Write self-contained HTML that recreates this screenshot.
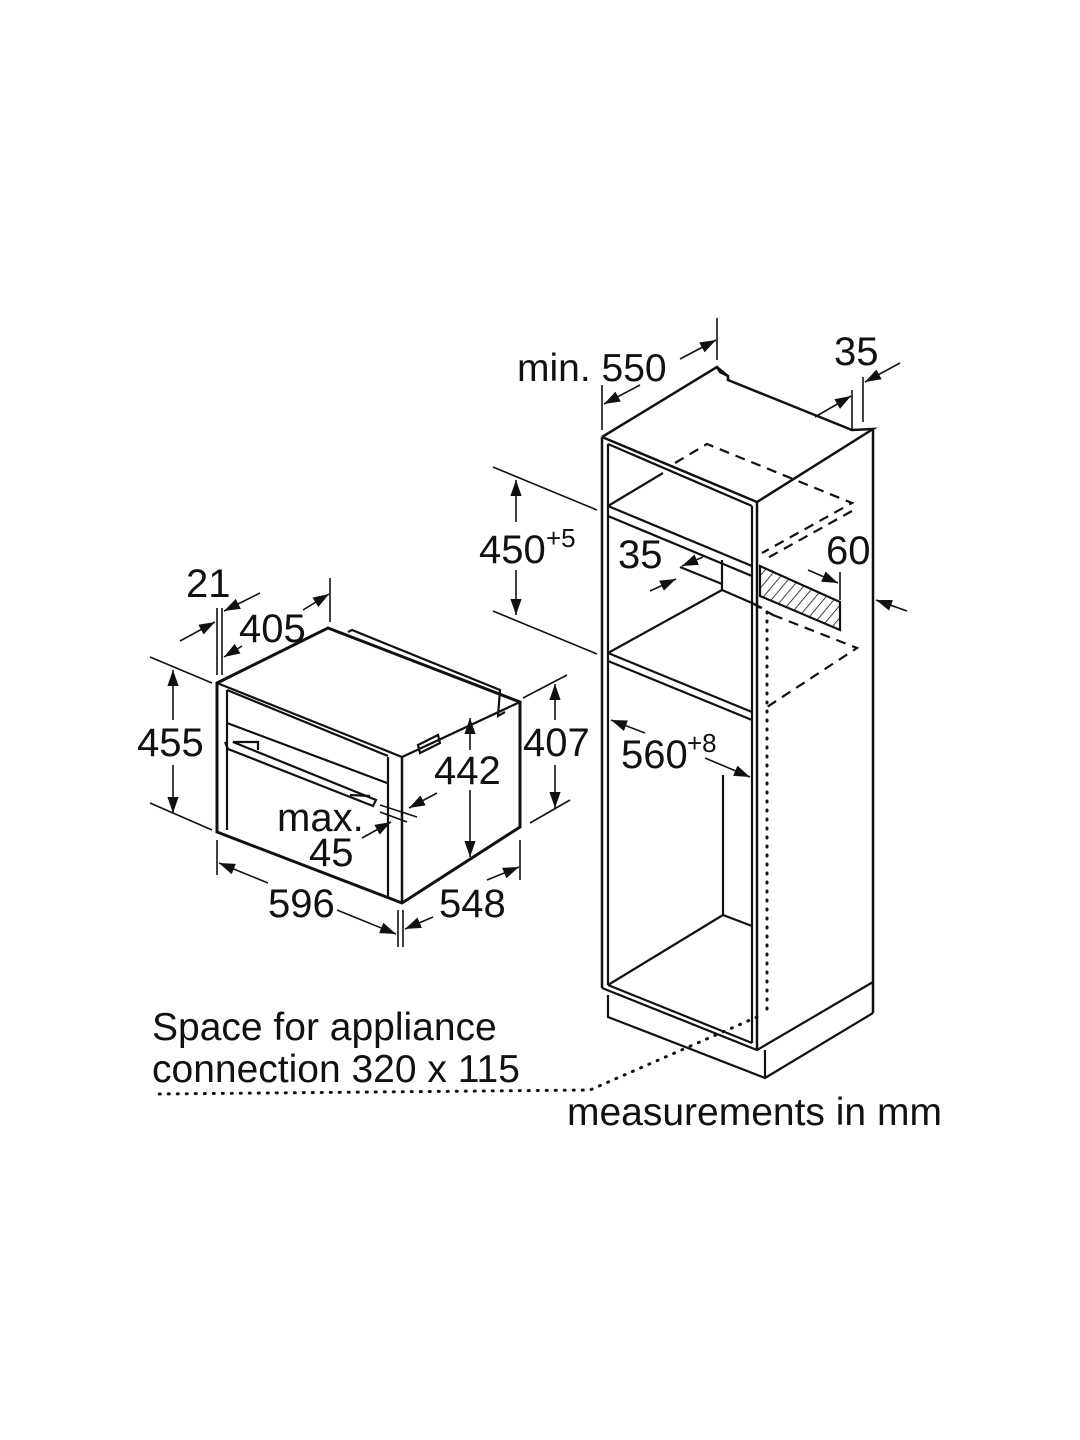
<!DOCTYPE html>
<html><head><style>
html,body{margin:0;padding:0;background:#fff;}
svg{display:block;}
text{font-family:"Liberation Sans",Arial,sans-serif;fill:#111;}
</style></head><body>
<svg width="1080" height="1440" viewBox="0 0 1080 1440" xmlns="http://www.w3.org/2000/svg">
<defs>
<marker id="a" viewBox="0 0 10 10" refX="10" refY="5" markerWidth="10" markerHeight="10" orient="auto-start-reverse"><path d="M0,1.5 L10,5 L0,8.5 z" fill="#111"/></marker>
<pattern id="h" width="8" height="8" patternUnits="userSpaceOnUse" patternTransform="rotate(40)"><line x1="0" y1="0" x2="0" y2="8" stroke="#111" stroke-width="1.6"/></pattern>
</defs>
<g fill="none" stroke="#111" stroke-width="2.2" stroke-linejoin="miter">
<!-- ===== OVEN ===== -->
<polygon points="217,683 328,628 520,702 520,827 402,903 217,832" fill="#fff" stroke-width="3"/>
<polyline points="217,683 402,757 520,702"/>
<line x1="402" y1="757" x2="402" y2="903" stroke-width="2.5"/>
<line x1="388" y1="757" x2="388" y2="897"/>
<line x1="227" y1="690" x2="227" y2="830"/>
<line x1="227" y1="690" x2="388" y2="756"/>
<line x1="227" y1="723" x2="387" y2="783"/>
<polyline points="348,632 352,630 500,690 498,716 505,712"/>
<polyline points="225,742 228,749 373,806 376,800 233,742 258,742 258,750"/>
<line x1="350" y1="795" x2="370" y2="796"/>
<path d="M418,745 l20,-10 l2,8 l-20,10 z"/>
<!-- oven dims -->
<line x1="150" y1="657" x2="212" y2="683" stroke-width="1.6"/>
<line x1="150" y1="803" x2="212" y2="830" stroke-width="1.6"/>
<line x1="173" y1="670" x2="173" y2="720" marker-start="url(#a)" stroke-width="1.6"/>
<line x1="173" y1="765" x2="173" y2="813" marker-end="url(#a)" stroke-width="1.6"/>
<line x1="523" y1="698" x2="567" y2="675" stroke-width="1.6"/>
<line x1="530" y1="823" x2="570" y2="800" stroke-width="1.6"/>
<line x1="555" y1="684" x2="555" y2="720" marker-start="url(#a)" stroke-width="1.6"/>
<line x1="555" y1="765" x2="555" y2="808" marker-end="url(#a)" stroke-width="1.6"/>
<line x1="470" y1="718" x2="470" y2="750" marker-start="url(#a)" stroke-width="1.6"/>
<line x1="470" y1="790" x2="470" y2="857" marker-end="url(#a)" stroke-width="1.6"/>
<line x1="217" y1="608" x2="217" y2="675" stroke-width="1.6"/>
<line x1="222" y1="608" x2="222" y2="675" stroke-width="1.6"/>
<line x1="180" y1="641" x2="215" y2="622" marker-end="url(#a)" stroke-width="1.6"/>
<line x1="260" y1="593" x2="224" y2="611" marker-end="url(#a)" stroke-width="1.6"/>
<line x1="330" y1="578" x2="330" y2="622" stroke-width="1.6"/>
<line x1="303" y1="610" x2="329" y2="594" marker-end="url(#a)" stroke-width="1.6"/>
<line x1="242" y1="646" x2="224" y2="657" marker-end="url(#a)" stroke-width="1.6"/>
<line x1="380" y1="805" x2="417" y2="817" stroke-width="1.6"/>
<line x1="380" y1="812" x2="407" y2="822" stroke-width="1.6"/>
<line x1="437" y1="793" x2="409" y2="808" marker-end="url(#a)" stroke-width="1.6"/>
<line x1="362" y1="838" x2="391" y2="822" marker-end="url(#a)" stroke-width="1.6"/>
<line x1="217" y1="840" x2="217" y2="875" stroke-width="1.6"/>
<line x1="398" y1="910" x2="398" y2="947" stroke-width="1.6"/>
<line x1="403" y1="910" x2="403" y2="947" stroke-width="1.6"/>
<line x1="520" y1="840" x2="520" y2="880" stroke-width="1.6"/>
<line x1="268" y1="883" x2="219" y2="863" marker-end="url(#a)" stroke-width="1.6"/>
<line x1="337" y1="910" x2="396" y2="934" marker-end="url(#a)" stroke-width="1.6"/>
<line x1="487" y1="880" x2="519" y2="867" marker-end="url(#a)" stroke-width="1.6"/>
<line x1="433" y1="917" x2="405" y2="929" marker-end="url(#a)" stroke-width="1.6"/>
<!-- ===== CABINET ===== -->
<polyline points="602,437 717,367 720,372 728,376 728,380 852,430 873,429 757,502 602,437" stroke-width="2.5"/>
<line x1="717" y1="367" x2="728" y2="376"/>
<line x1="602" y1="437" x2="602" y2="988" stroke-width="2.5"/>
<line x1="608" y1="444" x2="608" y2="985"/>
<line x1="608" y1="444" x2="752" y2="506"/>
<line x1="757" y1="502" x2="757" y2="1050" stroke-width="2.5"/>
<line x1="752" y1="506" x2="752" y2="1043"/>
<line x1="873" y1="429" x2="873" y2="1013" stroke-width="2.5"/>
<polyline points="602,988 757,1050 873,982"/>
<polyline points="608,985 752,1043"/>
<polyline points="608,995 608,1017 765,1078 873,1013"/>
<line x1="765" y1="1050" x2="765" y2="1078"/>
<line x1="608" y1="506" x2="752" y2="566"/>
<line x1="608" y1="516" x2="752" y2="576"/>
<line x1="608" y1="506" x2="663" y2="473"/>
<line x1="722" y1="560" x2="722" y2="590"/>
<line x1="680" y1="567" x2="722" y2="584"/>
<line x1="722" y1="590" x2="752" y2="603"/>
<line x1="722" y1="590" x2="608" y2="653"/>
<line x1="608" y1="653" x2="752" y2="712"/>
<line x1="608" y1="661" x2="752" y2="720"/>
<line x1="752" y1="603" x2="762" y2="608"/>
<line x1="608" y1="985" x2="723" y2="915"/>
<line x1="723" y1="915" x2="752" y2="926"/>
<line x1="723" y1="775" x2="723" y2="915"/>
<g stroke-dasharray="10,7">
<polyline points="675,463 707,444 852,503 762,553"/>
<line x1="852" y1="511" x2="764" y2="560"/>
<polyline points="773,615 857,648 767,707"/>
<line x1="752" y1="603" x2="773" y2="615"/>
</g>
<polygon points="760,566 840,602 840,630 760,596" fill="url(#h)"/>
<g stroke-dasharray="1,8" stroke-width="3" stroke-linecap="round">
<line x1="767" y1="612" x2="767" y2="1010"/>
<polyline points="757,1017 590,1090 158,1094"/>
</g>
<!-- cabinet dims -->
<line x1="602" y1="385" x2="602" y2="430" stroke-width="1.6"/>
<line x1="717" y1="318" x2="717" y2="360" stroke-width="1.6"/>
<line x1="640" y1="385" x2="604" y2="404" marker-end="url(#a)" stroke-width="1.6"/>
<line x1="680" y1="359" x2="716" y2="340" marker-end="url(#a)" stroke-width="1.6"/>
<line x1="852" y1="390" x2="852" y2="430" stroke-width="1.6"/>
<line x1="863" y1="377" x2="863" y2="422" stroke-width="1.6"/>
<line x1="815" y1="417" x2="851" y2="396" marker-end="url(#a)" stroke-width="1.6"/>
<line x1="900" y1="363" x2="865" y2="382" marker-end="url(#a)" stroke-width="1.6"/>
<line x1="493" y1="467" x2="597" y2="510" stroke-width="1.6"/>
<line x1="493" y1="611" x2="597" y2="654" stroke-width="1.6"/>
<line x1="516" y1="480" x2="516" y2="522" marker-start="url(#a)" stroke-width="1.6"/>
<line x1="516" y1="570" x2="516" y2="615" marker-end="url(#a)" stroke-width="1.6"/>
<line x1="703" y1="557" x2="682" y2="566" marker-end="url(#a)" stroke-width="1.6"/>
<line x1="650" y1="591" x2="676" y2="579" marker-end="url(#a)" stroke-width="1.6"/>
<line x1="840" y1="572" x2="840" y2="600" stroke-width="1.6"/>
<line x1="808" y1="570" x2="838" y2="583" marker-end="url(#a)" stroke-width="1.6"/>
<line x1="907" y1="611" x2="876" y2="600" marker-end="url(#a)" stroke-width="1.6"/>
<line x1="645" y1="733" x2="611" y2="720" marker-end="url(#a)" stroke-width="1.6"/>
<line x1="705" y1="758" x2="750" y2="777" marker-end="url(#a)" stroke-width="1.6"/>
</g>
<g font-size="40">
<text x="517" y="381" font-size="39">min. 550</text>
<text x="834" y="365">35</text>
<text x="479" y="563">450</text><text x="546" y="547" font-size="26">+5</text>
<text x="618" y="568">35</text>
<text x="826" y="564">60</text>
<text x="621" y="768">560</text><text x="687" y="752" font-size="26">+8</text>
<text x="186" y="597">21</text>
<text x="239" y="642">405</text>
<text x="137" y="756">455</text>
<text x="523" y="756">407</text>
<text x="434" y="784">442</text>
<text x="277" y="831">max.</text>
<text x="309" y="866">45</text>
<text x="268" y="917">596</text>
<text x="439" y="917">548</text>
<text x="152" y="1040" font-size="39">Space for appliance</text>
<text x="152" y="1082" font-size="39">connection 320 x 115</text>
<text x="567" y="1125" font-size="39">measurements in mm</text>
</g>
</svg>
</body></html>
